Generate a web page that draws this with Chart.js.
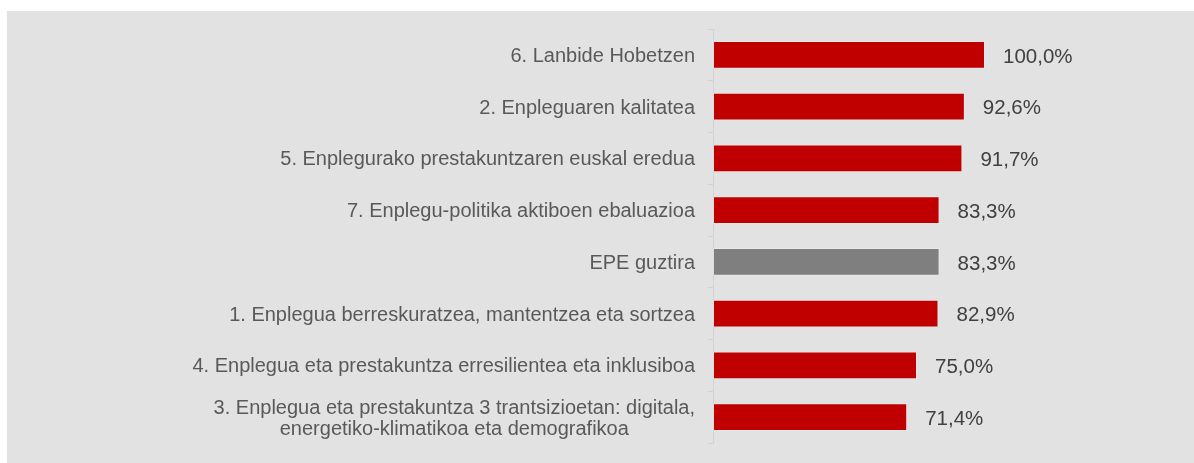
<!DOCTYPE html>
<html lang="en">
  <head>
    <meta charset="UTF-8" />
    <title>EPE ardatzak</title>
    <script src="https://cdn.jsdelivr.net/npm/chart.js@4"></script>
    <style>
      body { margin: 0; background: #fff; }
      #wrap {
        position: absolute;
        left: 7px;
        top: 11px;
        width: 1187px;
        height: 452px;
        background: #e2e2e2;
      }
    </style>
  </head>
  <body>
    <div id="wrap"><canvas id="myChart"></canvas></div>

    <script>
      // categories, top to bottom
      const categories = [
        '6. Lanbide Hobetzen',
        '2. Enpleguaren kalitatea',
        '5. Enplegurako prestakuntzaren euskal eredua',
        '7. Enplegu-politika aktiboen ebaluazioa',
        'EPE guztira',
        '1. Enplegua berreskuratzea, mantentzea eta sortzea',
        '4. Enplegua eta prestakuntza erresilientea eta inklusiboa',
        ['3. Enplegua eta prestakuntza 3 trantsizioetan: digitala,', 'energetiko-klimatikoa eta demografikoa']
      ];
      // percentages
      const values = [100.0, 92.6, 91.7, 83.3, 83.3, 82.9, 75.0, 71.4];
      const totalLabel = 'EPE guztira';

      const RED = '#c00000';
      const GREY = '#7f7f7f';
      const FONT = "'Liberation Sans', Arial, sans-serif";

      function fmt(v) {
        return v.toFixed(1).replace('.', ',') + '%';
      }

      // draws category labels (block right-aligned, lines centered) and value labels
      const labelPlugin = {
        id: 'labels',
        afterDraw(chart) {
          const ctx = chart.ctx;
          const y = chart.scales.y;
          ctx.save();
          ctx.font = '20px ' + FONT;
          ctx.fillStyle = '#595959';
          ctx.textAlign = 'center';
          ctx.textBaseline = 'middle';
          categories.forEach((lab, i) => {
            const lines = Array.isArray(lab) ? lab : [lab];
            const w = Math.max(...lines.map(l => ctx.measureText(l).width));
            const cx = y.right - 18 - w / 2;
            const cy = y.getPixelForTick(i) + 1.5;
            lines.forEach((l, j) => {
              ctx.fillText(l, cx, cy + (j - (lines.length - 1) / 2) * 21);
            });
          });
          ctx.textAlign = 'left';
          ctx.fillStyle = '#404040';
          ctx.font = '20.5px ' + FONT;
          chart.getDatasetMeta(0).data.forEach((bar, i) => {
            ctx.fillText(fmt(values[i]), bar.x + 18, bar.y + 2);
          });
          ctx.restore();
        }
      };

      const ctx = document.getElementById('myChart').getContext('2d');
      const myChart = new Chart(ctx, {
        type: 'bar',
        data: {
          labels: categories,
          datasets: [
            {
              data: values,
              backgroundColor: c => categories[c.dataIndex] === totalLabel ? GREY : RED,
              borderColor: 'rgba(255,255,255,0.25)',
              borderWidth: 1,
              borderSkipped: false,
              barPercentage: 0.54,
              categoryPercentage: 1
            }
          ]
        },
        options: {
          indexAxis: 'y',
          responsive: true,
          maintainAspectRatio: false,
          animation: false,
          layout: { padding: { top: 18, bottom: 20, right: 209, left: 0 } },
          plugins: { legend: { display: false }, tooltip: { enabled: false } },
          scales: {
            x: { min: 0, max: 100, display: false },
            y: {
              grid: {
                display: true,
                drawOnChartArea: false,
                drawTicks: true,
                tickLength: 5,
                offset: true,
                color: '#d2d2d2'
              },
              border: { display: true, color: '#d2d2d2' },
              ticks: { display: false },
              afterFit: s => { s.width = 706; }
            }
          }
        },
        plugins: [labelPlugin]
      });
    </script>
  </body>
</html>
